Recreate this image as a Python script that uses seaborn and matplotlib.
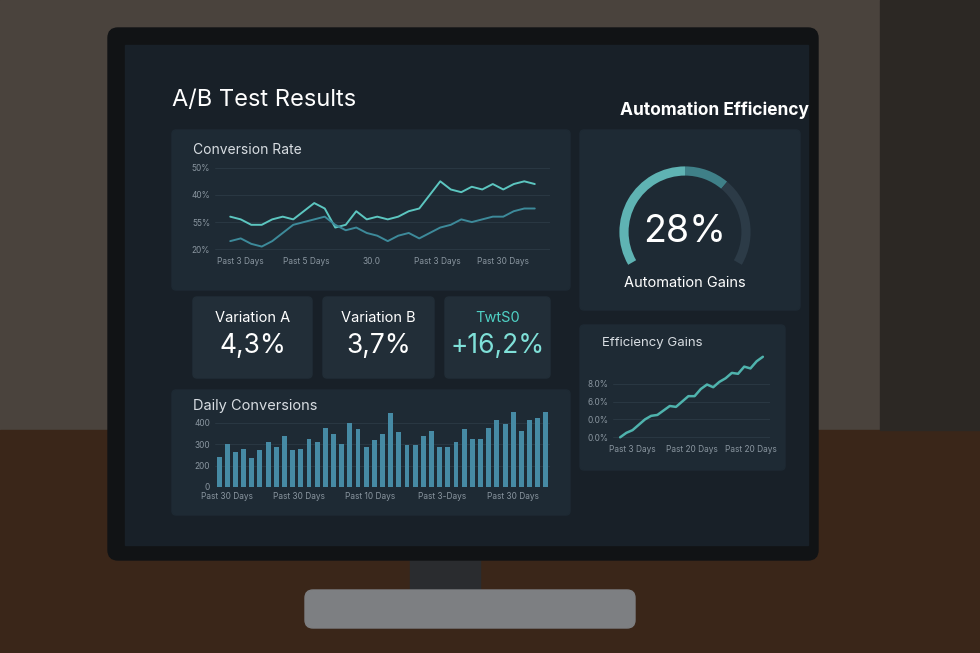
import numpy as np
import pandas as pd
import matplotlib.pyplot as plt
import seaborn as sns
from matplotlib.patches import FancyBboxPatch, Rectangle

sns.set_theme(style='dark')
plt.rcParams['font.family'] = ['Inter', 'DejaVu Sans']

# Conversion rate lines
conv_a = [32, 31, 29, 29, 31, 32, 31, 34, 37, 35, 28, 29, 34, 31, 32, 31, 32, 34, 35, 40, 45, 42, 41, 43, 42, 44, 42, 44, 45, 44]
conv_b = [23, 24, 22, 21, 23, 26, 29, 30, 31, 32, 29, 27, 28, 26, 25, 23, 25, 26, 24, 26, 28, 29, 31, 30, 31, 32, 32, 34, 35, 35]
conv_ticks = [20, 30, 40, 50]
conv_tick_labels = ['20%', '55%', '40%', '50%']
conv_x_labels = ['Past 3 Days', 'Past 5 Days', '30.0', 'Past 3 Days', 'Past 30 Days']

# Daily conversions
daily = [190, 270, 220, 240, 180, 230, 280, 250, 320, 230, 240, 300, 280, 370, 330, 270,
         400, 360, 250, 290, 330, 460, 340, 260, 260, 320, 350, 250, 250, 280, 360, 300,
         300, 370, 420, 390, 470, 350, 420, 430, 470]
daily_ticks = [0, 133, 267, 400]
daily_tick_labels = ['0', '200', '300', '400']
daily_x_labels = ['Past 30 Days', 'Past 30 Days', 'Past 10 Days', 'Past 3-Days', 'Past 30 Days']

# Efficiency gains
eff = [0.0, 0.5, 0.8, 1.4, 2.0, 2.4, 2.5, 3.0, 3.5, 3.4, 4.0, 4.6, 4.6, 5.4, 5.9, 5.6, 6.2, 6.6, 7.2, 7.1, 7.9, 7.7, 8.5, 9.0]
eff_ticks = [0, 2, 4, 6]
eff_tick_labels = ['0.0%', '0.0%', '6.0%', '8.0%']
eff_x_labels = ['Past 3 Days', 'Past 20 Days', 'Past 20 Days']

# Gauge segments (degrees)
gauge_parts = [120, 40, 80, 120]
gauge_colors = ['#5fb3b3', '#3f8088', '#2c3b47', 'none']

kpis = [('Variation A', '4,3%'), ('Variation B', '3,7%'), ('TwtS0', '+16,2%')]

W, H = 980, 653
fig = plt.figure(figsize=(9.8, 6.53), dpi=100)
fig.patch.set_facecolor('#3b342e')
bg = fig.add_axes([0, 0, 1, 1])
bg.set_xlim(0, W)
bg.set_ylim(H, 0)
bg.axis('off')
# room
bg.add_patch(Rectangle((0, 0), W, 430, color='#4a433d'))
bg.add_patch(Rectangle((0, 430), W, 223, color='#3a2619'))
bg.add_patch(Rectangle((880, 0), 100, 430, color='#2c2824'))
# stand
bg.add_patch(Rectangle((410, 555), 70, 45, color='#2a2c2f'))
bg.add_patch(FancyBboxPatch((305, 590), 330, 38, boxstyle='round,pad=0,rounding_size=8', color='#7d7f82'))
# monitor
bg.add_patch(FancyBboxPatch((108, 28), 710, 532, boxstyle='round,pad=0,rounding_size=10', color='#111315'))
bg.add_patch(Rectangle((125, 45), 683, 500, color='#182028'))

panel = '#1e2a34'
for x, y, w, h in [(172, 130, 398, 160), (172, 390, 398, 125), (580, 130, 220, 180), (580, 325, 205, 145)]:
    bg.add_patch(FancyBboxPatch((x, y), w, h, boxstyle='round,pad=0,rounding_size=4', color=panel))
for i, (x, w) in enumerate([(193, 119), (323, 111), (445, 105)]):
    bg.add_patch(FancyBboxPatch((x, 297), w, 81, boxstyle='round,pad=0,rounding_size=4', color='#222e38'))
    label, val = kpis[i]
    bg.text(x + w / 2, 318, label, color='#4fd1c5' if i == 2 else 'white', ha='center', va='center', fontsize=10.5)
    bg.text(x + w / 2, 346, val, color='#7fe0d8' if i == 2 else 'white', ha='center', va='center', fontsize=19)

bg.text(172, 100, 'A/B Test Results', color='white', fontsize=17, va='center')
bg.text(620, 110, 'Automation Efficiency', color='white', fontsize=12.5, va='center', fontweight='bold')
bg.text(193, 150, 'Conversion Rate', color='#d8dde2', fontsize=10, va='center')
bg.text(193, 406, 'Daily Conversions', color='#d8dde2', fontsize=10.5, va='center')
bg.text(602, 343, 'Efficiency Gains', color='#d8dde2', fontsize=9.5, va='center')
bg.text(685, 232, '28%', color='white', fontsize=27, ha='center', va='center')
bg.text(685, 283, 'Automation Gains', color='white', fontsize=10.5, ha='center', va='center')


def box(x0, y0, x1, y1):
    return [x0 / W, 1 - y1 / H, (x1 - x0) / W, (y1 - y0) / H]


def style(ax):
    ax.set_facecolor('none')
    ax.tick_params(colors='#8a96a0', labelsize=6, length=0)
    ax.grid(axis='y', color='#2c3a45', lw=0.6)
    ax.grid(axis='x', visible=False)
    for s in ax.spines.values():
        s.set_visible(False)
    ax.set_xlabel('')
    ax.set_ylabel('')


# conversion chart
ax1 = fig.add_axes(box(215, 165, 550, 252))
df1 = pd.DataFrame({'x': np.arange(len(conv_a)), 'a': conv_a, 'b': conv_b})
sns.lineplot(data=df1, x='x', y='a', ax=ax1, color='#5cc6c0', lw=1.4)
sns.lineplot(data=df1, x='x', y='b', ax=ax1, color='#3d8a9a', lw=1.4)
ax1.set_ylim(19, 51)
ax1.set_yticks(conv_ticks, conv_tick_labels)
ax1.set_xticks(np.linspace(1, len(conv_a) - 4, len(conv_x_labels)), conv_x_labels, color='#c0c8cf')
style(ax1)

# daily conversions
ax2 = fig.add_axes(box(215, 410, 550, 487))
df2 = pd.DataFrame({'x': np.arange(len(daily)), 'v': daily})
sns.barplot(data=df2, x='x', y='v', ax=ax2, color='#3a8fb0', width=0.6, saturation=0.8, linewidth=0)
ax2.set_ylim(0, 480)
ax2.set_yticks(daily_ticks, daily_tick_labels, color='#c0c8cf', fontsize=7)
ax2.set_xticks(np.linspace(1, len(daily) - 5, len(daily_x_labels)), daily_x_labels, color='#c0c8cf')
style(ax2)

# gauge
ax3 = fig.add_axes(box(603, 150, 767, 314))
ax3.pie(gauge_parts, colors=gauge_colors, startangle=210, counterclock=False,
        wedgeprops=dict(width=0.14, edgecolor='none'))
ax3.set_aspect('equal')

# efficiency gains
ax4 = fig.add_axes(box(613, 355, 770, 440))
df4 = pd.DataFrame({'x': np.arange(len(eff)), 'v': eff})
sns.lineplot(data=df4, x='x', y='v', ax=ax4, color='#4fb3ad', lw=1.8)
ax4.set_ylim(-0.3, 9.2)
ax4.set_yticks(eff_ticks, eff_tick_labels)
ax4.set_xticks(np.linspace(2, len(eff) - 3, len(eff_x_labels)), eff_x_labels, color='#c0c8cf')
style(ax4)

fig.savefig('out.png', dpi=100, facecolor=fig.get_facecolor())
